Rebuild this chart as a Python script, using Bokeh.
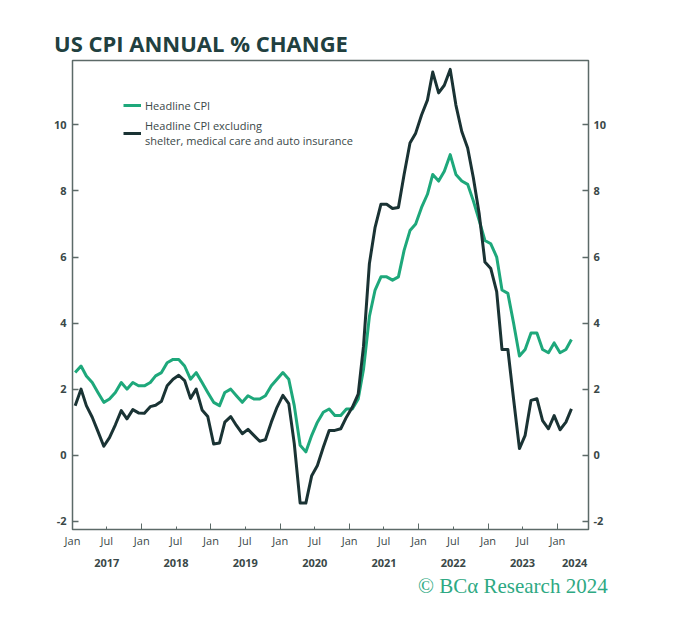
import pandas as pd
from bokeh.plotting import figure
from bokeh.models import (FixedTicker, LinearAxis, DatetimeAxis, DatetimeTickFormatter,
                          Title, Legend, LegendItem, Range1d, ColumnDataSource)
from bokeh.embed import file_html
from bokeh.resources import INLINE

# ---------------- data (monthly, Jan 2017 - Mar 2024) ----------------
first_month = "2017-01-01"
headline_cpi = [
    2.5, 2.7, 2.4, 2.2, 1.9, 1.6, 1.7, 1.9, 2.2, 2.0, 2.2, 2.1,
    2.1, 2.2, 2.4, 2.5, 2.8, 2.9, 2.9, 2.7, 2.3, 2.5, 2.2, 1.9,
    1.6, 1.5, 1.9, 2.0, 1.8, 1.6, 1.8, 1.7, 1.7, 1.8, 2.1, 2.3,
    2.5, 2.3, 1.5, 0.3, 0.1, 0.6, 1.0, 1.3, 1.4, 1.2, 1.2, 1.4,
    1.4, 1.7, 2.6, 4.2, 5.0, 5.4, 5.4, 5.3, 5.4, 6.2, 6.8, 7.0,
    7.5, 7.9, 8.5, 8.3, 8.6, 9.1, 8.5, 8.3, 8.2, 7.7, 7.1, 6.5,
    6.4, 6.0, 5.0, 4.9, 4.0, 3.0, 3.2, 3.7, 3.7, 3.2, 3.1, 3.4,
    3.1, 3.2, 3.5,
]
cpi_ex_shelter_med_auto = [
    1.5, 2.0, 1.5, 1.15, 0.72, 0.27, 0.53, 0.92, 1.35, 1.1, 1.38, 1.28,
    1.27, 1.47, 1.51, 1.63, 2.1, 2.3, 2.42, 2.26, 1.72, 2.0, 1.37, 1.17,
    0.34, 0.37, 1.0, 1.17, 0.9, 0.65, 0.78, 0.6, 0.42, 0.47, 1.0, 1.45,
    1.81, 1.56, 0.35, -1.45, -1.45, -0.62, -0.31, 0.24, 0.75, 0.75, 0.8, 1.15,
    1.45, 1.85, 3.3, 5.8, 6.9, 7.6, 7.6, 7.47, 7.5, 8.5, 9.45, 9.75,
    10.3, 10.75, 11.6, 10.97, 11.2, 11.68, 10.6, 9.8, 9.3, 8.4, 7.3, 5.85,
    5.65, 4.95, 3.2, 3.2, 1.7, 0.2, 0.6, 1.66, 1.71, 1.05, 0.8, 1.2,
    0.77, 1.0, 1.4,
]
y_ticks = [-2, 0, 2, 4, 6, 8, 10]
y_tick_labels = ["-2", "0", "2", "4", "6", "8", "10"]
month_tick_dates = [f"{y}-{m:02d}-01" for y in range(2017, 2025) for m in (1, 7)][:-1]
jan_tick_dates = [f"{y}-01-01" for y in range(2017, 2025)]
year_label_dates = [f"{y}-07-01" for y in range(2017, 2024)] + ["2024-04-01"]

# ---------------- styling ----------------
GREEN = "#1ea87b"
DARK = "#1a3334"
FRAME = "#5c6a68"
TEXT = "#3a4848"
TITLE = "#21403f"

def ms(d):
    return pd.Timestamp(d).value / 1e6

dates = pd.date_range(first_month, periods=len(headline_cpi), freq="MS") + pd.Timedelta(days=14)
src = ColumnDataSource(dict(date=dates, headline=headline_cpi, ex=cpi_ex_shelter_med_auto))

p = figure(width=658, height=608, x_axis_type="datetime",
           x_range=Range1d(pd.Timestamp("2017-01-01"), pd.Timestamp("2024-06-13")),
           y_range=Range1d(-2.25, 11.95),
           output_backend="svg", toolbar_location=None,
           min_border_left=72, min_border_right=70, min_border_top=60, min_border_bottom=79)
p.background_fill_color = "white"
p.border_fill_color = "white"
p.xgrid.visible = False
p.ygrid.visible = False
p.outline_line_color = FRAME
p.outline_line_width = 1.5

p.title.text = "US CPI ANNUAL % CHANGE"
p.title.text_font = "Open Sans"
p.title.text_font_style = "bold"
p.title.text_font_size = "22px"
p.title.text_color = TITLE
p.title.align = "left"
p.title.offset = -18.5
p.title.standoff = 6

r1 = p.line("date", "headline", source=src, line_color=GREEN, line_width=3, line_join="round")
r2 = p.line("date", "ex", source=src, line_color=DARK, line_width=3, line_join="round")

def fmt(f):
    return DatetimeTickFormatter(microseconds=f, milliseconds=f, seconds=f, minsec=f, minutes=f,
                                 hourmin=f, hours=f, days=f, months=f, years=f)

# bottom month axis
xa = p.xaxis[0]
xa.ticker = FixedTicker(ticks=[ms(d) for d in month_tick_dates],
                        minor_ticks=[ms(d) for d in jan_tick_dates])
xa.formatter = fmt("%b")
xa.axis_line_color = None
xa.major_tick_line_color = FRAME
xa.minor_tick_line_color = FRAME
xa.major_tick_in = 3
xa.major_tick_out = 0
xa.minor_tick_in = 6
xa.minor_tick_out = 0
xa.major_label_standoff = 3
xa.major_label_text_font = "Open Sans"
xa.major_label_text_font_size = "11px"
xa.major_label_text_color = TEXT

# bottom year axis
year_axis = DatetimeAxis(ticker=FixedTicker(ticks=[ms(d) for d in year_label_dates]),
                         formatter=fmt("%Y"))
year_axis.axis_line_color = None
year_axis.major_tick_line_color = None
year_axis.minor_tick_line_color = None
year_axis.major_label_standoff = 2
year_axis.major_label_text_font = "Open Sans"
year_axis.major_label_text_font_style = "bold"
year_axis.major_label_text_font_size = "11px"
year_axis.major_label_text_color = TEXT
p.add_layout(year_axis, "below")

credit = Title(text="© BCα Research 2024", align="left", offset=345.5, standoff=4,
               text_font="Liberation Serif", text_font_style="normal",
               text_font_size="21px", text_color="#2ea983")
p.add_layout(credit, "below")

# y axes
def style_y(ax, standoff):
    ax.ticker = FixedTicker(ticks=y_ticks)
    ax.major_label_overrides = dict(zip(y_ticks, y_tick_labels))
    ax.axis_line_color = None
    ax.major_tick_line_color = FRAME
    ax.major_tick_line_width = 1.5
    ax.major_tick_in = 6
    ax.major_tick_out = 0
    ax.minor_tick_line_color = None
    ax.major_label_standoff = standoff
    ax.major_label_text_font = "Open Sans"
    ax.major_label_text_font_style = "bold"
    ax.major_label_text_font_size = "11px"
    ax.major_label_text_color = TEXT

style_y(p.yaxis[0], 6)
ry = LinearAxis()
style_y(ry, 5)
p.add_layout(ry, "right")

legend = Legend(items=[
    LegendItem(label="Headline CPI", renderers=[r1]),
    LegendItem(label="Headline CPI excluding\nshelter, medical care and auto insurance", renderers=[r2]),
], location=(51, 381.5))
legend.background_fill_alpha = 0
legend.border_line_color = None
legend.padding = 0
legend.margin = 0
legend.spacing = 5
legend.glyph_width = 18
legend.glyph_height = 10
legend.label_standoff = 4
legend.label_text_font = "Open Sans"
legend.label_text_font_size = "11px"
legend.label_text_color = TEXT
p.add_layout(legend)

open("out.html", "w").write(file_html(p, INLINE))
